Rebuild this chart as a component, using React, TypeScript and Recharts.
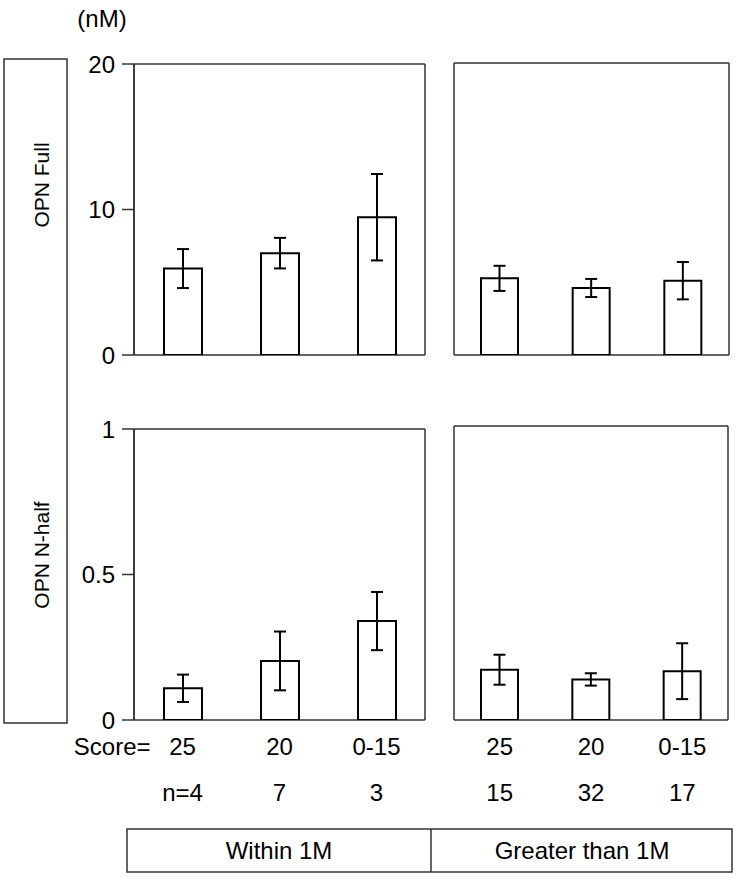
import { BarChart, Bar, XAxis, YAxis, ErrorBar, CartesianGrid } from 'recharts'

const scores = ['25', '20', '0-15']
const withinN = [4, 7, 3]
const greaterN = [15, 32, 17]

// OPN Full (nM)
const withinFull = [5.94, 7.0, 9.47]
const withinFullErr = [1.34, 1.05, 2.97]
const greaterFull = [5.25, 4.59, 5.09]
const greaterFullErr = [0.86, 0.62, 1.28]

// OPN N-half (nM)
const withinHalf = [0.109, 0.203, 0.34]
const withinHalfErr = [0.047, 0.101, 0.1]
const greaterHalf = [0.171, 0.138, 0.166]
const greaterHalfErr = [0.051, 0.021, 0.095]

const fullTicks = [0, 10, 20]
const halfTicks = [0, 0.5, 1]

const FONT = '"Liberation Sans", Arial, Helvetica, sans-serif'
const FRAME = '#333'

const rows = (values: number[], errs: number[], ns: number[]) =>
  scores.map((score, i) => ({ score, n: ns[i], value: values[i], err: errs[i] }))

const makeTick = (ns: number[], withPrefix: boolean) => (props: any) => {
  const { x, y, index } = props
  const first = withPrefix && index === 0
  return (
    <g fontFamily={FONT} fontSize={24} fill="#000">
      {first && (
        <text x={x - 32} y={y + 35} textAnchor="end">
          Score=
        </text>
      )}
      <text x={x} y={y + 35} textAnchor="middle">
        {props.payload.value}
      </text>
      <text x={x} y={y + 81} textAnchor="middle">
        {first ? `n=${ns[index]}` : ns[index]}
      </text>
    </g>
  )
}

// panel frame: grid lines only on the edges of the plot area
const frameRows = ({ offset }: any) => [offset.top, offset.top + offset.height]
const frameCols = ({ offset }: any) => [offset.left, offset.left + offset.width]

interface PanelProps {
  data: Array<{ score: string; n: number; value: number; err: number }>
  left: number
  top: number
  width: number
  height: number
  margin: { top: number; right: number; bottom: number; left: number }
  barSize: number
  domain: [number, number]
  ticks: number[]
  showY: boolean
  xTick: any
}

function Panel({ data, left, top, width, height, margin, barSize, domain, ticks, showY, xTick }: PanelProps) {
  return (
    <div style={{ position: 'absolute', left, top }}>
      <BarChart width={width} height={height} data={data} margin={margin}>
        <CartesianGrid
          stroke={FRAME}
          strokeWidth={1.5}
          horizontalCoordinatesGenerator={frameRows}
          verticalCoordinatesGenerator={frameCols}
        />
        <XAxis
          dataKey="score"
          hide={!xTick}
          height={100}
          tick={xTick || false}
          tickLine={false}
          tickSize={0}
          tickMargin={0}
          interval={0}
          axisLine={false}
        />
        <YAxis
          domain={domain}
          ticks={ticks}
          allowDataOverflow
          hide={!showY}
          width={74}
          tick={{ fontSize: 24, fill: '#000', fontFamily: FONT }}
          tickLine={{ stroke: FRAME, strokeWidth: 1.5 }}
          tickSize={12}
          tickMargin={7}
          axisLine={{ stroke: FRAME, strokeWidth: 1.5 }}
        />
        <Bar dataKey="value" fill="#fff" stroke="#000" strokeWidth={2} barSize={barSize} isAnimationActive={false}>
          <ErrorBar dataKey="err" width={6} stroke="#000" strokeWidth={2} />
        </Bar>
      </BarChart>
    </div>
  )
}

export default function App() {
  return (
    <div
      style={{
        position: 'absolute',
        left: 0,
        top: 0,
        width: 738,
        height: 878,
        background: '#fff',
        fontFamily: FONT,
      }}
    >
      <svg width={738} height={878} style={{ position: 'absolute', left: 0, top: 0 }}>
        <text x={102} y={27} textAnchor="middle" fontSize={24} fontFamily={FONT} fill="#000">
          (nM)
        </text>
        <rect x={4} y={59} width={63} height={664} fill="none" stroke={FRAME} strokeWidth={1.5} />
        <text
          transform="translate(41,185) rotate(-90)"
          textAnchor="middle"
          dominantBaseline="central"
          fontSize={21}
          fontFamily={FONT}
          fill="#000"
        >
          OPN Full
        </text>
        <text
          transform="translate(41,555) rotate(-90)"
          textAnchor="middle"
          dominantBaseline="central"
          fontSize={21}
          fontFamily={FONT}
          fill="#000"
        >
          OPN N-half
        </text>
        <rect x={127} y={829} width={605} height={43} fill="none" stroke={FRAME} strokeWidth={1.5} />
        <line x1={431} y1={829} x2={431} y2={872} stroke={FRAME} strokeWidth={1.5} />
        <text x={279} y={859} textAnchor="middle" fontSize={24} fontFamily={FONT} fill="#000">
          Within 1M
        </text>
        <text x={582} y={859} textAnchor="middle" fontSize={24} fontFamily={FONT} fill="#000">
          Greater than 1M
        </text>
      </svg>

      <Panel
        data={rows(withinFull, withinFullErr, withinN)}
        left={60}
        top={40}
        width={372}
        height={330}
        margin={{ top: 24, right: 7, bottom: 15, left: 0 }}
        barSize={38}
        domain={[0, 20]}
        ticks={fullTicks}
        showY
        xTick={null}
      />
      <Panel
        data={rows(greaterFull, greaterFullErr, greaterN)}
        left={440}
        top={40}
        width={295}
        height={330}
        margin={{ top: 23, right: 6, bottom: 15, left: 14 }}
        barSize={37}
        domain={[0, 20]}
        ticks={fullTicks}
        showY={false}
        xTick={null}
      />
      <Panel
        data={rows(withinHalf, withinHalfErr, withinN)}
        left={60}
        top={400}
        width={372}
        height={420}
        margin={{ top: 29, right: 7, bottom: 0, left: 0 }}
        barSize={38}
        domain={[0, 1]}
        ticks={halfTicks}
        showY
        xTick={makeTick(withinN, true)}
      />
      <Panel
        data={rows(greaterHalf, greaterHalfErr, greaterN)}
        left={440}
        top={400}
        width={295}
        height={420}
        margin={{ top: 26, right: 7, bottom: 0, left: 14 }}
        barSize={37}
        domain={[0, 1]}
        ticks={halfTicks}
        showY={false}
        xTick={makeTick(greaterN, false)}
      />
    </div>
  )
}
